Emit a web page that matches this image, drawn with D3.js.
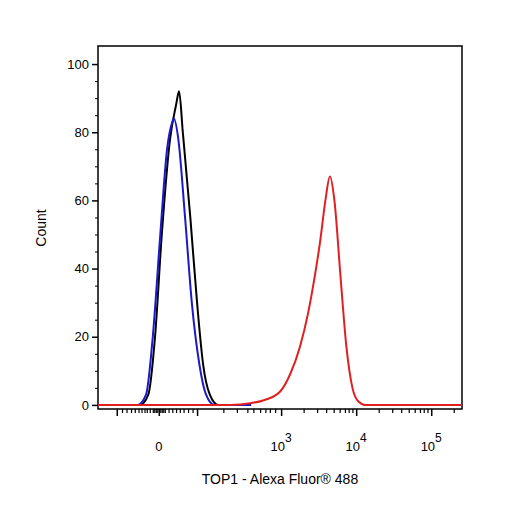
<!DOCTYPE html><html><head><script src="https://cdn.jsdelivr.net/npm/d3@7"></script>
<style>body{margin:0;background:#fff}</style></head><body><svg id="c" width="506" height="506"></svg>
<script>
// x values in display (biexponential) decade units: 10^3 = 3, 10^4 = 4
const blackX=[0.56,1.12,1.23,1.32,1.41,1.52,1.60,1.64,1.69,1.79,1.88,1.96,2.05,2.16,2.6];
const blackY=[0,0,3,20,50,78,88,92,80,55,30,12,3,0,0];
const blueX=[0.56,1.09,1.20,1.29,1.39,1.48,1.55,1.57,1.63,1.72,1.81,1.91,2.00,2.11,2.6];
const blueY=[0,0,3,20,50,75,83,84,78,55,30,12,3,0,0];
const redX=[0.56,2.32,2.59,2.79,2.99,3.12,3.25,3.36,3.45,3.52,3.59,3.65,3.71,3.79,3.87,3.95,4.03,4.12,5.41];
const redY=[0,0,0.5,1.5,4,9,17,27,38,48,60,67,60,38,17,5,1,0,0];
const majorTicks=[0.81,1.37,1.88,3,4,5];
const tickLabels=[{u:1.37,b:"0",e:""},{u:3,b:"10",e:"3"},{u:4,b:"10",e:"4"},{u:5,b:"10",e:"5"}];
const minorTicks=[0.88,0.94,1.0,1.05,1.1,1.14,1.18,1.21,1.25,1.29,1.31,1.33,1.35,1.39,1.41,1.43,1.45,1.5,1.55,1.6,1.65,1.7,1.76,1.82,
 2.23,2.41,2.55,2.63,2.72,2.79,2.85,2.92,
 3.30,3.48,3.60,3.70,3.78,3.85,3.90,3.95,4.30,4.48,4.60,4.70,4.78,4.85,4.90,4.95,5.30];
const yTicks=[0,20,40,60,80,100];
const L=98,R=462,T=46,B=409;
const svg=d3.select("#c");
const x=d3.scaleLinear().domain([0.56,5.41]).range([L,R]);
const y=d3.scaleLinear().domain([-1.2,105.3]).range([B,T]);
svg.append("rect").attr("x",L).attr("y",T).attr("width",R-L).attr("height",B-T).attr("fill","none").attr("stroke","#000").attr("stroke-width",1.5);
const ya=svg.append("g").attr("transform",`translate(${L},0)`).call(d3.axisLeft(y).tickValues(yTicks).tickSize(6).tickFormat(d3.format("d")));
ya.select(".domain").remove();
ya.selectAll("line").attr("stroke-width",1.5);
ya.selectAll("text").attr("font-family","Arial, Liberation Sans").attr("font-size",13).attr("fill","#000");
svg.append("g").attr("transform",`translate(${L},0)`).call(d3.axisLeft(y).tickValues(d3.range(0,105,5).filter(v=>v%20)).tickSize(3).tickFormat("")).select(".domain").remove();
const xa=svg.append("g").attr("transform",`translate(0,${B})`).call(d3.axisBottom(x).tickValues(majorTicks).tickSize(7).tickFormat(""));
xa.select(".domain").remove(); xa.selectAll("line").attr("stroke-width",1.5);
const xm=svg.append("g").attr("transform",`translate(0,${B})`).call(d3.axisBottom(x).tickValues(minorTicks).tickSize(4).tickFormat(""));
xm.select(".domain").remove(); xm.selectAll("line").attr("stroke-width",1.2);
const tl=svg.append("g").attr("font-family","Arial, Liberation Sans").attr("font-size",13);
tickLabels.forEach(t=>{
  const tx=tl.append("text").attr("x",x(t.u)).attr("y",451).attr("text-anchor","middle");
  tx.append("tspan").text(t.b);
  if(t.e) tx.append("tspan").attr("dy",-9).attr("font-size",12).text(t.e);
});
svg.append("text").attr("x",280).attr("y",484).attr("text-anchor","middle").attr("font-family","Arial, Liberation Sans").attr("font-size",14).text("TOP1 - Alexa Fluor® 488");
svg.append("text").attr("transform","translate(46,228) rotate(-90)").attr("text-anchor","middle").attr("font-family","Arial, Liberation Sans").attr("font-size",14).text("Count");
const line=d3.line().x(d=>x(d[0])).y(d=>y(d[1])).curve(d3.curveMonotoneX);
const series=[[blackX,blackY,"#000"],[blueX,blueY,"#1a1acc"],[redX,redY,"#e02020"]];
series.forEach(([xs,ys,c])=>{
  svg.append("path").datum(xs.map((v,i)=>[v,ys[i]])).attr("d",line).attr("fill","none").attr("stroke",c).attr("stroke-width",2);
});
</script></body></html>
